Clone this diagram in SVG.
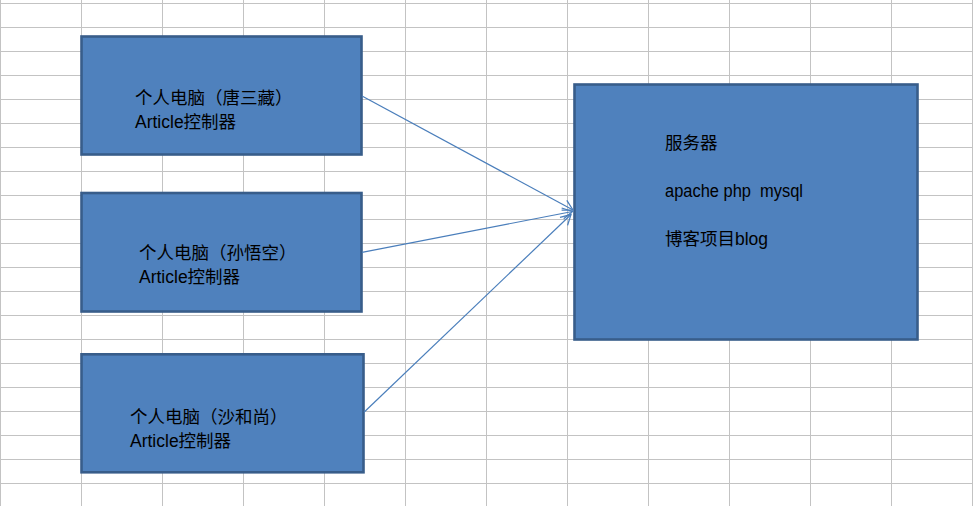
<svg xmlns="http://www.w3.org/2000/svg" width="973" height="506" viewBox="0 0 973 506">
<defs>
<style>
.grid line{stroke:#c3c3c3;stroke-width:1}
.box{fill:#4f81bd;stroke:#385d8a;stroke-width:2.6}
.t{font-family:"Liberation Sans","Noto Sans CJK SC",sans-serif;font-size:17.5px;fill:#000;white-space:pre}
.conn line{stroke:#4a7ebb;stroke-width:1.2;fill:none}
</style>
<marker id="arr" markerUnits="userSpaceOnUse" markerWidth="14" markerHeight="14" refX="11" refY="6" orient="auto" viewBox="0 0 14 12">
<path d="M1,0.5 L11,6 L1,11.5" fill="none" stroke="#4a7ebb" stroke-width="1.3"/>
</marker>
</defs>
<rect width="973" height="506" fill="#ffffff"/>
<g class="grid">
<line x1="0.5" y1="0" x2="0.5" y2="506"/>
<line x1="81.5" y1="0" x2="81.5" y2="506"/>
<line x1="162.5" y1="0" x2="162.5" y2="506"/>
<line x1="243.5" y1="0" x2="243.5" y2="506"/>
<line x1="324.5" y1="0" x2="324.5" y2="506"/>
<line x1="405.5" y1="0" x2="405.5" y2="506"/>
<line x1="486.5" y1="0" x2="486.5" y2="506"/>
<line x1="567.5" y1="0" x2="567.5" y2="506"/>
<line x1="648.5" y1="0" x2="648.5" y2="506"/>
<line x1="729.5" y1="0" x2="729.5" y2="506"/>
<line x1="810.5" y1="0" x2="810.5" y2="506"/>
<line x1="891.5" y1="0" x2="891.5" y2="506"/>
<line x1="972.5" y1="0" x2="972.5" y2="506"/>
<line x1="0" y1="3.5" x2="973" y2="3.5"/>
<line x1="0" y1="27.5" x2="973" y2="27.5"/>
<line x1="0" y1="51.5" x2="973" y2="51.5"/>
<line x1="0" y1="75.5" x2="973" y2="75.5"/>
<line x1="0" y1="99.5" x2="973" y2="99.5"/>
<line x1="0" y1="123.5" x2="973" y2="123.5"/>
<line x1="0" y1="147.5" x2="973" y2="147.5"/>
<line x1="0" y1="171.5" x2="973" y2="171.5"/>
<line x1="0" y1="195.5" x2="973" y2="195.5"/>
<line x1="0" y1="219.5" x2="973" y2="219.5"/>
<line x1="0" y1="243.5" x2="973" y2="243.5"/>
<line x1="0" y1="267.5" x2="973" y2="267.5"/>
<line x1="0" y1="291.5" x2="973" y2="291.5"/>
<line x1="0" y1="315.5" x2="973" y2="315.5"/>
<line x1="0" y1="339.5" x2="973" y2="339.5"/>
<line x1="0" y1="363.5" x2="973" y2="363.5"/>
<line x1="0" y1="387.5" x2="973" y2="387.5"/>
<line x1="0" y1="411.5" x2="973" y2="411.5"/>
<line x1="0" y1="435.5" x2="973" y2="435.5"/>
<line x1="0" y1="459.5" x2="973" y2="459.5"/>
<line x1="0" y1="483.5" x2="973" y2="483.5"/>
</g>
<g id="pc1">
<rect class="box" x="81.5" y="36.5" width="280" height="118"/>
<text class="t" x="135" y="104">个人电脑（唐三藏）</text>
<text class="t" x="135" y="128">Article控制器</text>
</g>
<g id="pc2">
<rect class="box" x="81.5" y="193" width="280" height="118.5"/>
<text class="t" x="139" y="259">个人电脑（孙悟空）</text>
<text class="t" x="139" y="283">Article控制器</text>
</g>
<g id="pc3">
<rect class="box" x="81.5" y="354.3" width="282" height="118"/>
<text class="t" x="130" y="423">个人电脑（沙和尚）</text>
<text class="t" x="130" y="447">Article控制器</text>
</g>
<g id="server">
<rect class="box" x="574.5" y="84.5" width="343" height="255"/>
<text class="t" x="665" y="149">服务器</text>
<text class="t" x="665" y="197" textLength="138" lengthAdjust="spacingAndGlyphs">apache php  mysql</text>
<text class="t" x="665" y="245">博客项目blog</text>
</g>
<g class="conn">
<line x1="362" y1="96" x2="573" y2="210" marker-end="url(#arr)"/>
<line x1="362" y1="252.3" x2="572.5" y2="211.5" marker-end="url(#arr)"/>
<line x1="364" y1="412.3" x2="571" y2="214.5" marker-end="url(#arr)"/>
</g>
</svg>
